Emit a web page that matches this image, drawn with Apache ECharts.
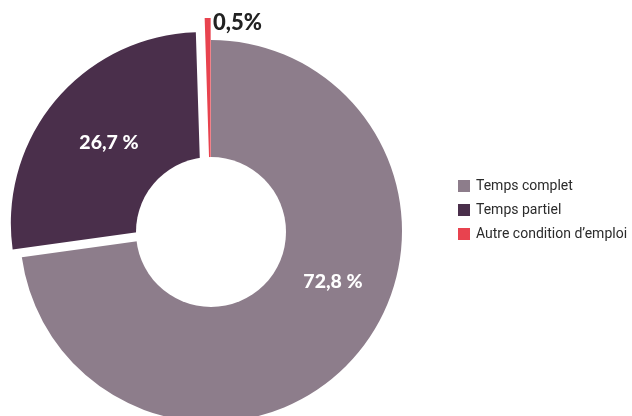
<!DOCTYPE html>
<html>
<head>
<meta charset="utf-8">
<script src="https://cdn.jsdelivr.net/npm/echarts@6/dist/echarts.min.js"></script>
<style>
  html, body { margin: 0; padding: 0; background: #ffffff; }
  #chart { width: 632px; height: 416px; }
</style>
</head>
<body>
<div id="chart"></div>
<script>
const categories = ['Temps complet', 'Temps partiel', 'Autre condition d\u2019emploi'];
const values = [72.8, 26.7, 0.5];
const colors = ['#8d7d8b', '#4a2f4b', '#e8434f'];
const labelSeps = [' ', ' ', ''];

function fmt(v, i) { return v.toFixed(1).replace('.', ',') + labelSeps[i] + '%'; }

const center = [211, 231];
const radius = [40, 191];
const holeRadius = 75;

const mainData = categories.map((name, i) => ({
  name: name,
  value: values[i],
  selected: i === 1,
  itemStyle: { color: i === 2 ? 'rgba(0,0,0,0)' : colors[i] }
}));
const smallData = categories.map((name, i) => ({
  name: name,
  value: values[i],
  selected: i === 2,
  itemStyle: { color: i === 2 ? colors[i] : 'rgba(0,0,0,0)' }
}));

const chart = echarts.init(document.getElementById('chart'), null, { renderer: 'canvas' });
chart.setOption({
  animation: false,
  backgroundColor: '#ffffff',
  legend: {
    orient: 'vertical',
    left: 453,
    top: 174,
    itemWidth: 12,
    itemHeight: 12,
    itemGap: 10,
    icon: 'rect',
    textStyle: { fontFamily: 'Roboto', fontSize: 14, color: '#2b2b2b', padding: [0, 0, 0, 1] },
    data: categories.map((name, i) => ({ name: name, itemStyle: { color: colors[i] } }))
  },
  graphic: [
    { type: 'circle', z: 50, shape: { cx: center[0], cy: center[1] + 1, r: holeRadius }, style: { fill: '#ffffff' }, silent: true },
    { type: 'text', z: 100, left: 213, top: 12, style: { text: fmt(values[2], 2), fontFamily: 'Lato', fontWeight: 900, fontSize: 22, fill: '#222222' } },
    { type: 'text', z: 100, x: 109, y: 143, style: { text: fmt(values[1], 1), fontFamily: 'Lato', fontWeight: 900, fontSize: 19.5, fill: '#ffffff', align: 'center', verticalAlign: 'middle' } },
    { type: 'text', z: 100, x: 333, y: 282, style: { text: fmt(values[0], 0), fontFamily: 'Lato', fontWeight: 900, fontSize: 19.5, fill: '#ffffff', align: 'center', verticalAlign: 'middle' } }
  ],
  series: [
    {
      type: 'pie',
      center: center,
      radius: radius,
      startAngle: 90,
      clockwise: true,
      selectedMode: 'multiple',
      selectedOffset: 12,
      silent: true,
      z: 2,
      label: { show: false },
      labelLine: { show: false },
      emphasis: { disabled: true },
      data: mainData
    },
    {
      type: 'pie',
      center: center,
      radius: radius,
      startAngle: 90,
      clockwise: true,
      selectedMode: 'multiple',
      selectedOffset: 22,
      silent: true,
      z: 2,
      label: { show: false },
      labelLine: { show: false },
      emphasis: { disabled: true },
      data: smallData
    }
  ]
});
</script>
</body>
</html>
